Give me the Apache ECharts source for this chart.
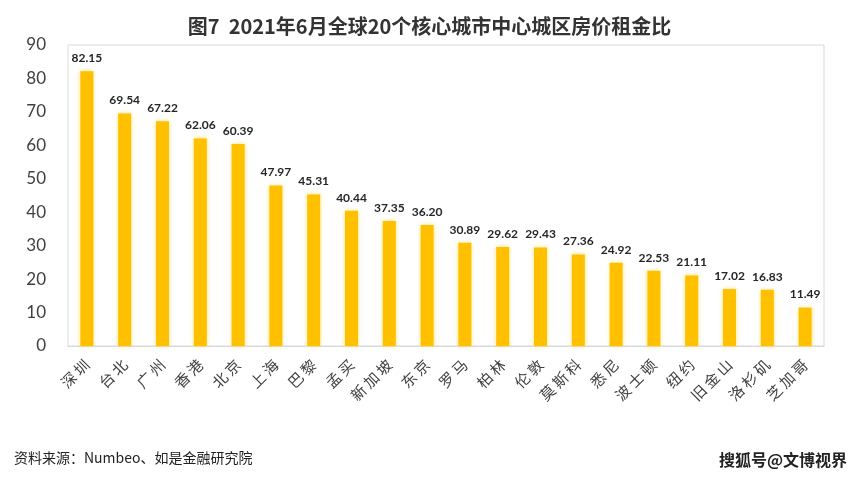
<!DOCTYPE html>
<html><head><meta charset="utf-8">
<script src="https://cdn.jsdelivr.net/npm/echarts@6/dist/echarts.min.js"></script>
<style>html,body{margin:0;padding:0;background:#fff;}#c{width:859px;height:483px;}</style>
</head><body><div id="c"></div>
<script>
const categories = ["深圳","台北","广州","香港","北京","上海","巴黎","孟买","新加坡","东京","罗马","柏林","伦敦","莫斯科","悉尼","波士顿","纽约","旧金山","洛杉矶","芝加哥"];
const values = [82.15,69.54,67.22,62.06,60.39,47.97,45.31,40.44,37.35,36.20,30.89,29.62,29.43,27.36,24.92,22.53,21.11,17.02,16.83,11.49];
const yTicks = [0,10,20,30,40,50,60,70,80,90];
const titleText = "图7  2021年6月全球20个核心城市中心城区房价租金比";
const sourceText = "资料来源：Numbeo、如是金融研究院";
const watermark = "搜狐号@文博视界";

const chart = echarts.init(document.getElementById('c'));
chart.setOption({
  animation: false,
  backgroundColor: '#fff',
  title: {
    text: titleText, left: 'center', top: 11,
    textStyle: {fontFamily: 'Noto Sans CJK SC', fontSize: 20, fontWeight: 'bold', color: '#333'}
  },
  graphic: [
    {type: 'text', left: 14, top: 451, style: {text: sourceText, font: '14px "Noto Sans CJK SC"', fill: '#222'}},
    {type: 'text', right: 12, top: 452, style: {text: watermark, font: 'bold 16px "Noto Sans CJK SC"', fill: '#222'}}
  ],
  grid: {left: 68, right: 35, top: 45, bottom: 137, show: true, borderColor: '#d9d9d9', borderWidth: 1},
  xAxis: {
    type: 'category', data: categories,
    axisLine: {show: true, lineStyle: {color: '#d9d9d9'}},
    axisTick: {show: false},
    axisLabel: {interval: 0, rotate: 45, fontFamily: 'Noto Sans CJK SC', fontSize: 15, color: '#404040', margin: 16,
      formatter: v => v.split('').join('\u2009')}
  },
  yAxis: {
    type: 'value', min: yTicks[0], max: yTicks[yTicks.length-1], interval: 10,
    splitLine: {show: false},
    axisLine: {show: false}, axisTick: {show: false},
    axisLabel: {fontFamily: 'Lato', fontSize: 17, color: '#404040', margin: 22}
  },
  series: [{
    type: 'bar', data: values, barWidth: 13,
    itemStyle: {color: '#FFC000', shadowColor: 'rgba(255,220,80,0.8)', shadowBlur: 4},
    label: {show: true, position: 'top', distance: 7, formatter: p => p.value.toFixed(2),
      fontFamily: 'Lato', fontWeight: 'bold', fontSize: 12, color: '#262626'}
  }]
});
</script></body></html>
